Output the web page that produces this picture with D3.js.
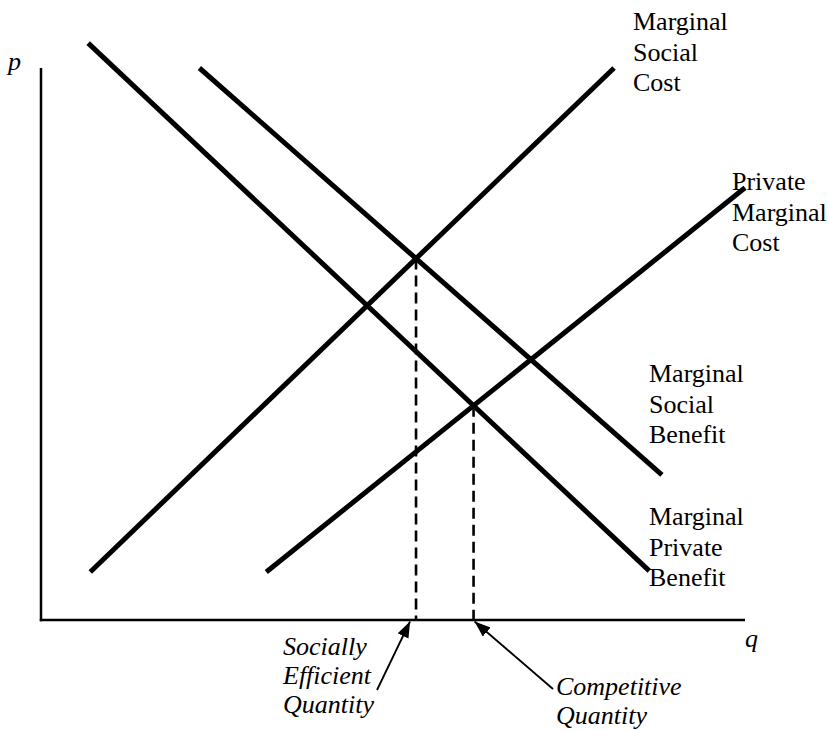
<!DOCTYPE html>
<html>
<head>
<meta charset="utf-8">
<script src="https://cdn.jsdelivr.net/npm/d3@7"></script>
<style>
  html, body { margin: 0; padding: 0; background: #fff; }
  svg { display: block; }
  text { font-family: "Liberation Serif", "Times New Roman", serif; fill: #000; }
</style>
</head>
<body>
<svg id="chart" width="829" height="731"></svg>
<script>
// curve endpoints in (q, p) units
const curveNames = ["Marginal Private Benefit", "Marginal Social Benefit", "Marginal Social Cost", "Private Marginal Cost"];
const curveStart = [[0.67, 10.45], [2.25, 10.0], [0.70, 0.87], [3.20, 0.87]];
const curveEnd   = [[8.64, 0.89], [8.82, 2.63], [8.14, 10.0], [10.0, 7.83]];
const curveLabels = [
    ["Marginal", "Private", "Benefit"],
    ["Marginal", "Social", "Benefit"],
    ["Marginal", "Social", "Cost"],
    ["Private", "Marginal", "Cost"]
];
// which curves cross to give each quantity
const quantityNames  = ["Socially Efficient Quantity", "Competitive Quantity"];
const quantityPairs  = [[1, 2], [0, 3]];
const quantityLabels = [["Socially", "Efficient", "Quantity"], ["Competitive", "Quantity"]];
const axisLabels = ["q", "p"];

const W = 829, H = 731;
const m = { top: 68, right: 84, bottom: 111, left: 41 };

const svg = d3.select("#chart");
const x = d3.scaleLinear().domain([0, 10]).range([m.left, W - m.right]);
const y = d3.scaleLinear().domain([0, 10]).range([H - m.bottom, m.top]);

svg.append("defs").append("marker")
    .attr("id", "head")
    .attr("markerUnits", "userSpaceOnUse")
    .attr("markerWidth", 17).attr("markerHeight", 13)
    .attr("refX", 16).attr("refY", 6)
    .attr("orient", "auto")
    .append("path").attr("d", "M0,0L16,6L0,12Z").attr("fill", "#000");

// axes
svg.append("line")
    .attr("x1", x(0)).attr("x2", x(0))
    .attr("y1", y(10)).attr("y2", y(0) + 1.2)
    .attr("stroke", "#000").attr("stroke-width", 2.5);
svg.append("line")
    .attr("x1", x(0) - 1.2).attr("x2", x(10))
    .attr("y1", y(0)).attr("y2", y(0))
    .attr("stroke", "#000").attr("stroke-width", 2.5);

svg.append("text").attr("x", x(10)).attr("y", y(0) + 27)
    .attr("font-size", 26).attr("font-style", "italic").text(axisLabels[0]);
svg.append("text").attr("x", 8).attr("y", y(10) + 2)
    .attr("font-size", 26).attr("font-style", "italic").text(axisLabels[1]);

// intersection of two curves (in data units)
function cross(i, j) {
    const [x1, y1] = curveStart[i], [x2, y2] = curveEnd[i];
    const [x3, y3] = curveStart[j], [x4, y4] = curveEnd[j];
    const d = (x1 - x2) * (y3 - y4) - (y1 - y2) * (x3 - x4);
    const a = x1 * y2 - y1 * x2, b = x3 * y4 - y3 * x4;
    return [(a * (x3 - x4) - (x1 - x2) * b) / d, (a * (y3 - y4) - (y1 - y2) * b) / d];
}
const crossings = quantityPairs.map(([i, j]) => cross(i, j));

// dashed drop lines
svg.selectAll(".drop").data(crossings).enter().append("line")
    .attr("class", "drop")
    .attr("x1", d => x(d[0])).attr("x2", d => x(d[0]))
    .attr("y1", d => y(d[1])).attr("y2", y(0))
    .attr("stroke", "#000").attr("stroke-width", 2.6)
    .attr("stroke-dasharray", "11,6");

// curves
svg.selectAll(".curve").data(curveNames).enter().append("line")
    .attr("class", "curve")
    .attr("x1", (d, i) => x(curveStart[i][0])).attr("y1", (d, i) => y(curveStart[i][1]))
    .attr("x2", (d, i) => x(curveEnd[i][0])).attr("y2", (d, i) => y(curveEnd[i][1]))
    .attr("stroke", "#000").attr("stroke-width", 5);

// curve labels
const labelPos = [[649, 525], [649, 382], [633, 30], [732, 190]];
curveLabels.forEach((lines, i) => {
    const t = svg.append("text").attr("font-size", 26);
    lines.forEach((s, k) => t.append("tspan")
        .attr("x", labelPos[i][0]).attr("y", labelPos[i][1] + k * 30.5).text(s));
});

// quantity labels with arrows pointing at the q axis
const qLabelPos = [[283, 655], [556, 695]];
const arrowFrom = [[377, 690], [553, 689]];
const arrowTipDx = [-6, 1];
quantityLabels.forEach((lines, i) => {
    const t = svg.append("text").attr("font-size", 26).attr("font-style", "italic");
    lines.forEach((s, k) => t.append("tspan")
        .attr("x", qLabelPos[i][0]).attr("y", qLabelPos[i][1] + k * 29).text(s));
    svg.append("line")
        .attr("x1", arrowFrom[i][0]).attr("y1", arrowFrom[i][1])
        .attr("x2", x(crossings[i][0]) + arrowTipDx[i]).attr("y2", y(0) + 1.5)
        .attr("stroke", "#000").attr("stroke-width", 1.8)
        .attr("marker-end", "url(#head)");
});
</script>
</body>
</html>
